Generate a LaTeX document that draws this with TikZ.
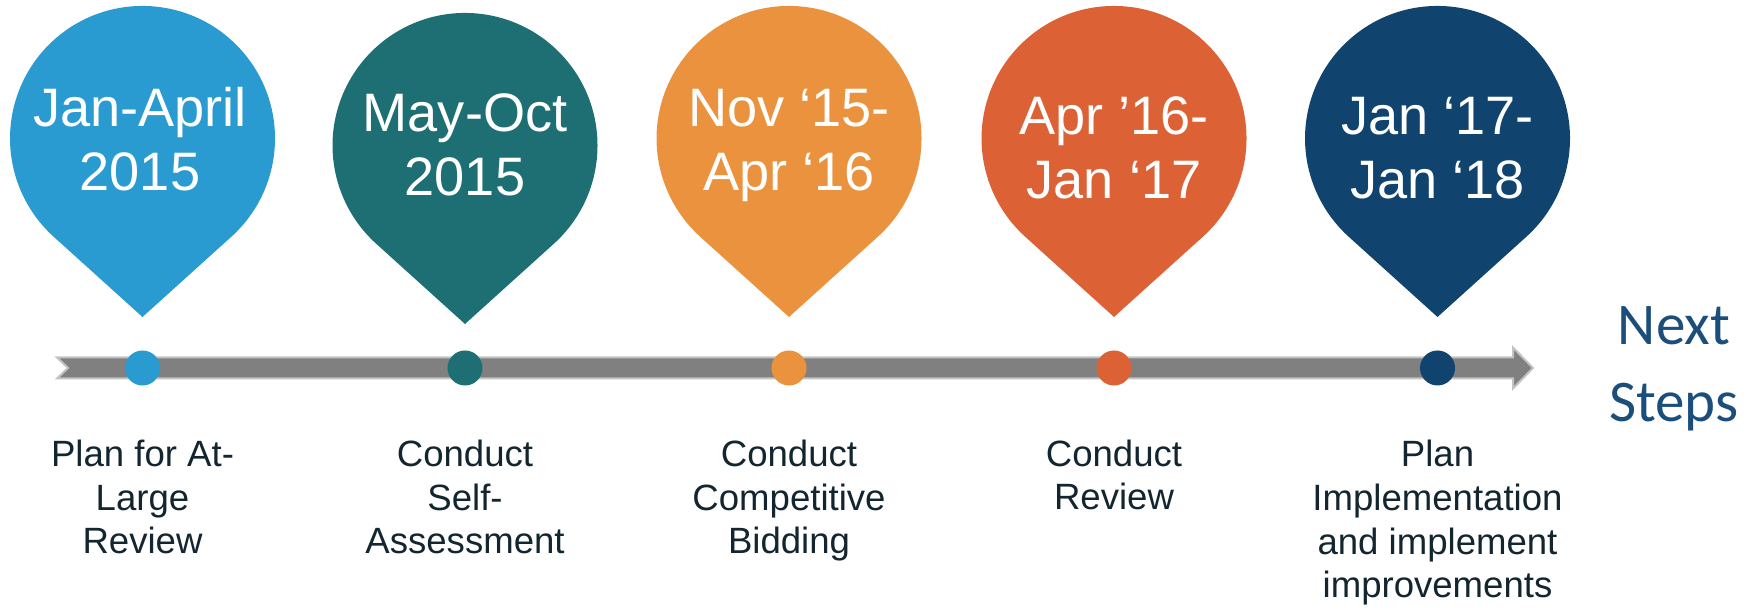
\documentclass[tikz,border=0pt]{standalone}
\usepackage{fontspec}
\setmainfont{Liberation Sans}
\newfontfamily\calibrifont{Carlito}
\usetikzlibrary{calc}

\definecolor{pinA}{HTML}{2A9BD1}
\definecolor{pinB}{HTML}{1D6F73}
\definecolor{pinC}{HTML}{EA923D}
\definecolor{pinD}{HTML}{DC6135}
\definecolor{pinE}{HTML}{10446E}
\definecolor{labeltext}{HTML}{13262F}
\definecolor{nexttext}{HTML}{1B4E7B}
\definecolor{bargray}{HTML}{808080}
\definecolor{baredge}{HTML}{C3C3C3}

% pin: centre x, centre y, colour
\newcommand{\datepin}[3]{%
  \fill[#3] (#1,#2-178.5) -- ++(88.8,80.2) arc[start angle=-47.92,end angle=227.92,radius=132.5] -- cycle;}

\begin{document}
\begin{tikzpicture}[x=0.01cm,y=0.01cm,
	datetext/.style={text=white,align=center,anchor=base,inner sep=0pt,font=\fontsize{15.4}{18.1}\selectfont},
	steptext/.style={text=labeltext,align=center,anchor=base,inner sep=0pt,font=\fontsize{10.4}{12.5}\selectfont},
	stepdot/.style={circle,inner sep=0pt,minimum size=0.35cm}]

	\useasboundingbox (0,0) rectangle (1758,613);

	% timeline bar
	\draw[baredge,line width=0.02cm,fill=bargray,line join=miter]
		(57,255.5) -- (1513,255.5) -- (1513,265.5) -- (1533,245) -- (1513,224.5)
		-- (1513,234.5) -- (57,234.5) -- (68,245) -- cycle;

	\datepin{142.5}{474.5}{pinA}
	\datepin{465}{467.5}{pinB}
	\datepin{789}{474.5}{pinC}
	\datepin{1114}{474.5}{pinD}
	\datepin{1437.5}{474.5}{pinE}

	% base = baseline of the last line
	\node (P1)[datetext] at (140,422.5){Jan-April\\2015};
	\node (P2)[datetext] at (465,417.5){May-Oct\\2015};
	\node (P3)[datetext] at (789,422.5){Nov ‘15-\\Apr ‘16};
	\node (P4)[datetext] at (1114,414.5){Apr ’16-\\Jan ‘17};
	\node (P5)[datetext] at (1437.5,414.5){Jan ‘17-\\Jan ‘18};

	\node (D1)[stepdot,fill=pinA] at (142.5,245){};
	\node (D2)[stepdot,fill=pinB] at (465,245){};
	\node (D3)[stepdot,fill=pinC] at (789,245){};
	\node (D4)[stepdot,fill=pinD] at (1114,245){};
	\node (D5)[stepdot,fill=pinE] at (1437.5,245){};

	\node (L1)[steptext] at (142.5,59){Plan for At-\\Large\\Review};
	\node (L2)[steptext] at (465,59){Conduct\\Self-\\Assessment};
	\node (L3)[steptext] at (789,59){Conduct\\Competitive\\Bidding};
	\node (L4)[steptext] at (1114,103){Conduct\\Review};
	\node (L5)[steptext] at (1437.5,15){Plan\\Implementation\\and implement\\improvements};

	\node (NS)[text=nexttext,align=center,anchor=base,inner sep=0pt,font=\calibrifont\fontsize{16.8}{21.9}\selectfont] at (1674,191){Next\\Steps};

\end{tikzpicture}
\end{document}
